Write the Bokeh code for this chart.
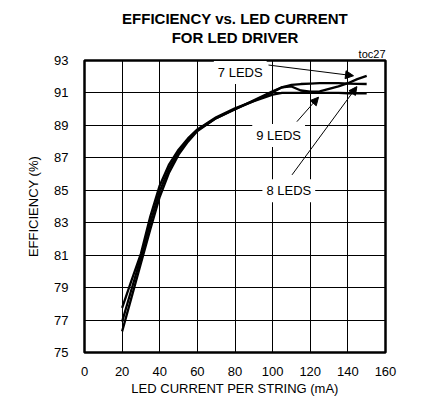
from bokeh.plotting import figure
from bokeh.models import FixedTicker, Label, Arrow, NormalHead, Title
from bokeh.embed import file_html
from bokeh.resources import INLINE

# ---- data ----
current_ma = [20, 25, 30, 35, 40, 45, 50, 55, 60, 70, 80, 90, 100, 105, 110,
              115, 120, 125, 130, 135, 140, 145, 150]
eff_7leds = [76.3, 78.4, 80.5, 82.6, 84.6, 86.1, 87.2, 88.0, 88.65, 89.45, 90.0,
             90.55, 91.1, 91.35, 91.4, 91.15, 91.08, 91.1, 91.25, 91.4, 91.6,
             91.85, 92.05]
eff_8leds = [76.9, 78.9, 80.85, 83.0, 84.95, 86.35, 87.35, 88.1, 88.7, 89.45,
             90.0, 90.5, 91.05, 91.35, 91.5, 91.55, 91.58, 91.6, 91.6, 91.6,
             91.58, 91.56, 91.55]
eff_9leds = [77.75, 79.45, 81.1, 83.4, 85.3, 86.6, 87.5, 88.2, 88.75, 89.5,
             90.05, 90.5, 90.9, 91.0, 91.0, 91.0, 91.0, 91.0, 91.0, 91.0, 90.98,
             90.98, 90.98]
x_ticks = [0, 20, 40, 60, 80, 100, 120, 140, 160]
y_ticks = [75, 77, 79, 81, 83, 85, 87, 89, 91, 93]

FONT = "Liberation Sans"

p = figure(frame_width=301, frame_height=292, x_range=(0, 160), y_range=(75, 93),
           output_backend="svg", toolbar_location=None, title=None,
           min_border_left=84, min_border_right=29, min_border_top=60,
           min_border_bottom=40, background_fill_color="white",
           border_fill_color="white")

# titles (added inner-most first)
toc = Title(text="toc27", align="right", text_font_size="11px",
            text_font_style="normal", text_font=FONT, standoff=1,
            text_color="black")
p.add_layout(toc, "above")
main2 = Title(text="FOR LED DRIVER", align="center",
              text_font_size="15px", text_font_style="bold", text_font=FONT,
              standoff=0, text_color="black")
p.add_layout(main2, "above")
main1 = Title(text="EFFICIENCY vs. LED CURRENT", align="center",
              text_font_size="15px", text_font_style="bold", text_font=FONT,
              standoff=0, text_color="black")
p.add_layout(main1, "above")

# axes
for ax, ticks in ((p.xaxis, x_ticks), (p.yaxis, y_ticks)):
    ax.ticker = FixedTicker(ticks=ticks)
    ax.major_tick_line_color = None
    ax.minor_tick_line_color = None
    ax.axis_line_color = None
    ax.major_label_text_font = FONT
    ax.major_label_text_font_size = "13px"
    ax.major_label_text_color = "black"
    ax.axis_label_text_font = FONT
    ax.axis_label_text_font_size = "13px"
    ax.axis_label_text_font_style = "normal"
    ax.axis_label_text_color = "black"
p.xaxis.major_label_standoff = 8
p.xaxis.axis_label_standoff = 2
p.yaxis.major_label_standoff = 10
p.yaxis.axis_label_standoff = 10
p.xaxis.axis_label = "LED CURRENT PER STRING (mA)"
p.yaxis.axis_label = "EFFICIENCY (%)"

p.xgrid.ticker = FixedTicker(ticks=x_ticks)
p.ygrid.ticker = FixedTicker(ticks=y_ticks)
p.grid.grid_line_color = "black"
p.grid.grid_line_width = 1
p.grid.grid_line_alpha = 1

p.outline_line_color = "black"
p.outline_line_width = 2.5

# curves
for ys in (eff_7leds, eff_8leds, eff_9leds):
    p.line(current_ma, ys, line_color="black", line_width=2.3)

# annotations
def lab(x, y, t):
    p.add_layout(Label(x=x, y=y, text=t, text_align="center",
                       text_baseline="middle", text_font=FONT,
                       text_font_size="13px", text_color="black",
                       background_fill_color="white", padding=4))

def arr(x0, y0, x1, y1):
    p.add_layout(Arrow(end=NormalHead(size=8, fill_color="black",
                                      line_color="black", line_width=1),
                       x_start=x0, y_start=y0, x_end=x1, y_end=y1,
                       line_color="black", line_width=1))

arr(97.8, 92.72, 143.0, 92.06)
arr(112.9, 89.23, 124.4, 90.74)
arr(110.3, 85.95, 144.8, 91.39)
lab(82.8, 92.26, "7 LEDS")
lab(103.2, 88.38, "9 LEDS")
lab(108.6, 84.97, "8 LEDS")

open("out.html", "w").write(file_html(p, INLINE))
